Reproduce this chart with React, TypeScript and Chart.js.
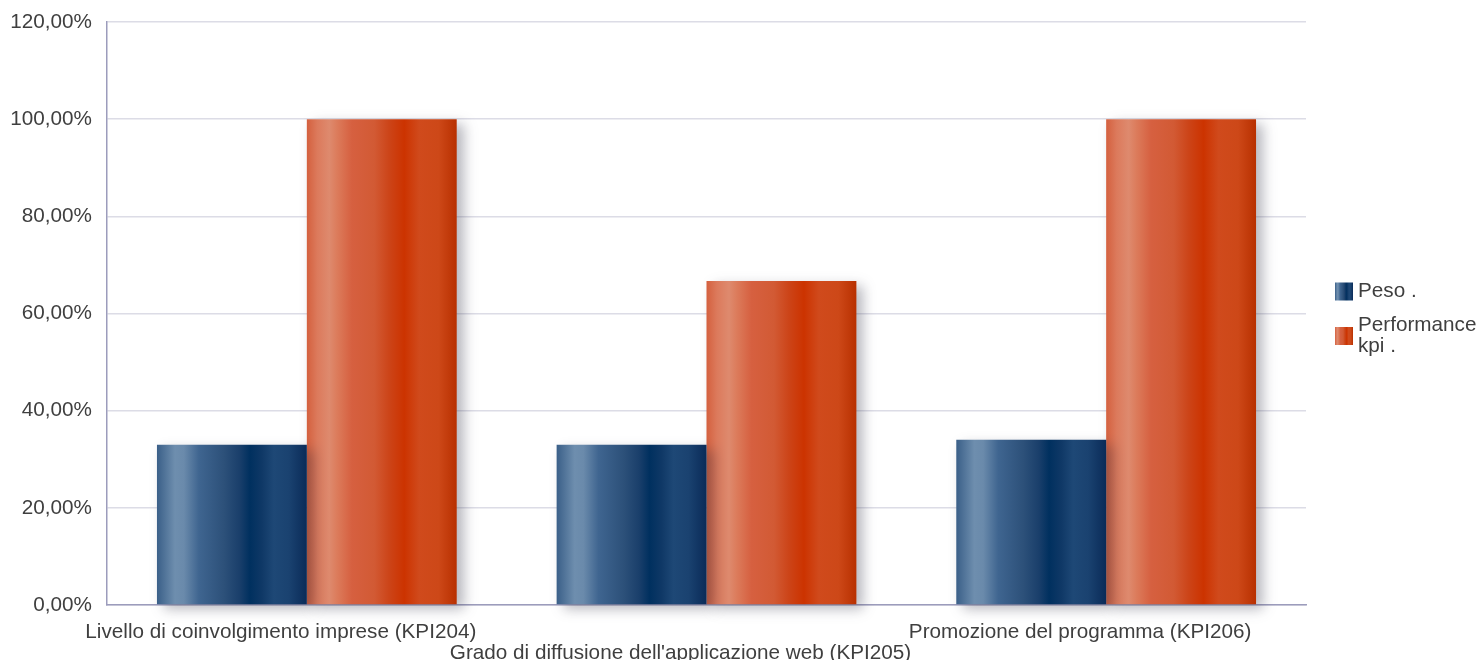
import React, { useEffect, useRef } from "react";
import { Chart, registerables } from "chart.js";

Chart.register(...registerables);

const categories = [
  "Livello di coinvolgimento imprese (KPI204)",
  "Grado di diffusione dell'applicazione web (KPI205)",
  "Promozione del programma (KPI206)",
];
const seriesNames = ["Peso .", "Performance kpi ."];
const pesoValues = [33, 33, 34];
const performanceValues = [100, 66.67, 100];
const yTicks = [0, 20, 40, 60, 80, 100, 120];

const blueStops: [number, string][] = [
  [0, "#3a5f88"], [0.12, "#6e8eae"], [0.18, "#6a8aab"], [0.28, "#3f6590"],
  [0.45, "#2c5079"], [0.55, "#1a3f6b"], [0.62, "#00305f"], [0.7, "#0f3866"],
  [0.78, "#1e4876"], [0.88, "#1a4270"], [1, "#0a2b58"],
];
const orangeStops: [number, string][] = [
  [0, "#d4603e"], [0.07, "#dc7a5c"], [0.15, "#de8a6e"], [0.2, "#dc7c5c"],
  [0.3, "#d66040"], [0.45, "#d25a34"], [0.55, "#cc4418"], [0.65, "#cc3300"],
  [0.75, "#d04a1c"], [0.88, "#cd4818"], [1, "#b83000"],
];
const stopsFor = [blueStops, orangeStops];

const FONT = "'Liberation Sans', Arial, sans-serif";
const FS = 20.7;
const TEXT = "#3f3f3f";
const CAT_PCT = 0.75;

function makeGrad(ctx: CanvasRenderingContext2D, x0: number, x1: number, stops: [number, string][]) {
  const g = ctx.createLinearGradient(x0, 0, x1, 0);
  stops.forEach(([o, c]) => g.addColorStop(o, c));
  return g;
}

const shadowPlugin = {
  id: "barShadow",
  beforeDatasetsDraw(chart: any) {
    const ctx = chart.ctx;
    ctx.save();
    ctx.shadowColor = "rgba(50,50,70,0.35)";
    ctx.shadowBlur = 12;
    ctx.shadowOffsetX = 7;
    ctx.shadowOffsetY = 5;
  },
  afterDatasetsDraw(chart: any) {
    chart.ctx.restore();
  },
};

const legendPlugin = {
  id: "sideLegend",
  afterDraw(chart: any) {
    const ctx = chart.ctx as CanvasRenderingContext2D;
    const ca = chart.chartArea;
    const x = ca.right + 29;
    let y = 281;
    ctx.save();
    ctx.font = `${FS}px ${FONT}`;
    ctx.fillStyle = TEXT;
    ctx.textBaseline = "middle";
    chart.data.datasets.forEach((ds: any, i: number) => {
      const words = String(ds.label).split(" ");
      const lines: string[] = [];
      let cur = "";
      words.forEach((w) => {
        const t = cur ? cur + " " + w : w;
        if (ctx.measureText(t).width > 125 && cur) {
          lines.push(cur);
          cur = w;
        } else cur = t;
      });
      if (cur) lines.push(cur);
      const lh = 21;
      const blockH = lines.length * lh;
      const sq = 18;
      const sqY = y + blockH / 2 - sq / 2;
      ctx.fillStyle = makeGrad(ctx, x, x + sq, stopsFor[i]);
      ctx.fillRect(x, sqY, sq, sq);
      ctx.fillStyle = TEXT;
      lines.forEach((l, j) => ctx.fillText(l, x + 23, y + lh / 2 + j * lh));
      y += blockH + 13;
    });
    ctx.restore();
  },
};

export default function App() {
  const ref = useRef<HTMLCanvasElement>(null);
  useEffect(() => {
    if (!ref.current) return;
    const gradColor = (dsIndex: number) => (c: any) => {
      const chart = c.chart;
      const xs = chart.scales && chart.scales.x;
      const fallback = stopsFor[dsIndex][6][1];
      if (!xs || c.dataIndex === undefined) return fallback;
      const catW = xs.width / categories.length;
      const barW = (catW * CAT_PCT) / 2;
      const center = xs.getPixelForValue(c.dataIndex);
      const left = center - barW + dsIndex * barW;
      if (!isFinite(left) || !isFinite(barW) || barW <= 0) return fallback;
      return makeGrad(chart.ctx, left, left + barW, stopsFor[dsIndex]);
    };
    const chart = new Chart(ref.current, {
      type: "bar",
      data: {
        labels: categories,
        datasets: [
          { label: seriesNames[0], data: pesoValues, backgroundColor: gradColor(0), clip: false as any, borderWidth: 0 },
          { label: seriesNames[1], data: performanceValues, backgroundColor: gradColor(1), clip: false as any, borderWidth: 0 },
        ],
      },
      options: {
        responsive: false,
        animation: false,
        layout: { padding: { top: 22, right: 173, left: 0, bottom: 0 } },
        datasets: { bar: { categoryPercentage: CAT_PCT, barPercentage: 1 } },
        plugins: { legend: { display: false }, tooltip: { enabled: false } },
        scales: {
          x: {
            grid: { display: false, drawTicks: false },
            border: { display: true, color: "#9c9cbc", width: 1.5 },
            ticks: {
              autoSkip: false,
              maxRotation: 0,
              minRotation: 0,
              padding: 17,
              labelOffset: -26,
              color: TEXT,
              font: { family: FONT, size: FS, lineHeight: 1.02 },
              callback: (_v: any, i: number) => (i % 2 === 1 ? ["", categories[i]] : categories[i]),
            },
            afterFit: (s: any) => { s.height = 55; },
          },
          y: {
            min: 0,
            max: 120,
            afterBuildTicks: (s: any) => { s.ticks = yTicks.map((v) => ({ value: v })); },
            grid: { color: "#dcdce6", drawTicks: false, lineWidth: 1.5 },
            border: { display: true, color: "#9c9cbc", width: 1.5 },
            ticks: {
              padding: 15,
              color: TEXT,
              font: { family: FONT, size: FS },
              callback: (v: any) => Number(v).toFixed(2).replace(".", ",") + "%",
            },
            afterFit: (s: any) => { s.width = 107; s.paddingTop = 0; s.paddingBottom = 0; },
          },
        },
      },
      plugins: [shadowPlugin, legendPlugin],
    });
    return () => chart.destroy();
  }, []);
  return (
    <div style={{ position: "absolute", left: 0, top: 0, width: 1479, height: 660, background: "#fff" }}>
      <canvas ref={ref} width={1479} height={660} />
    </div>
  );
}
